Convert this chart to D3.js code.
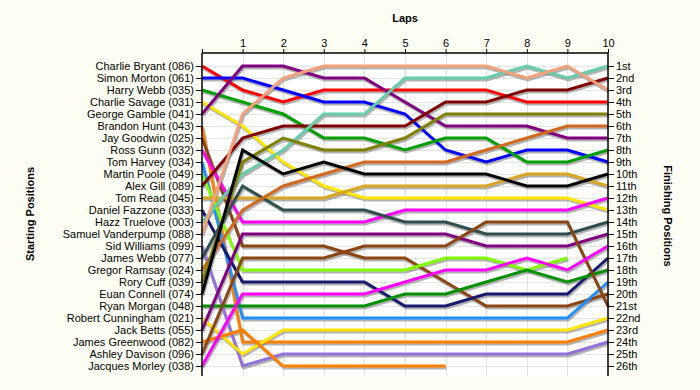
<!DOCTYPE html>
<html><head><meta charset="utf-8">
<script src="https://cdn.jsdelivr.net/npm/d3@7"></script>
<style>
html,body{margin:0;padding:0;background:#fefef4;}
svg{display:block;}
</style></head><body>
<svg id="c" width="700" height="390"></svg>
<script>
// ---- data ----
const laps = [0,1,2,3,4,5,6,7,8,9,10];
const lapTicks = [1,2,3,4,5,6,7,8,9,10];
const drivers = [
  "Charlie Bryant (086)","Simon Morton (061)","Harry Webb (035)","Charlie Savage (031)",
  "George Gamble (041)","Brandon Hunt (043)","Jay Goodwin (025)","Ross Gunn (032)",
  "Tom Harvey (034)","Martin Poole (049)","Alex Gill (089)","Tom Read (045)",
  "Daniel Fazzone (033)","Hazz Truelove (003)","Samuel Vanderpump (088)","Sid Williams (099)",
  "James Webb (077)","Gregor Ramsay (024)","Rory Cuff (039)","Euan Connell (074)",
  "Ryan Morgan (048)","Robert Cunningham (021)","Jack Betts (055)","James Greenwood (082)",
  "Ashley Davison (096)","Jacques Morley (038)"];
const colours = [
  "#ff0000","#0000ff","#00a000","#ffe600",
  "#800080","#ff8000","#8b4513","#ff00ff",
  "#1e90ff","#7fff00","#800000","#daa520",
  "#191970","#66cdaa","#f4a07a","#9370db",
  "#2f4f4f","#d2691e","#808000","#000000",
  "#009000","#ffe600","#800080","#ff8000",
  "#8b4513","#ff00ff"];
// position of each driver after each lap (lap 0 = start); null = retired
const positions = [
  [1,3,4,3,3,3,3,3,4,4,4],
  [2,2,3,4,4,5,8,9,8,8,9],
  [3,4,5,7,7,8,7,7,9,9,8],
  [4,6,9,11,12,12,12,12,12,12,13],
  [5,1,1,2,2,4,6,6,6,7,7],
  [6,24,24,24,24,24,24,24,24,24,23],
  [7,16,16,16,17,17,19,21,21,21,20],
  [8,14,14,14,14,13,13,13,13,13,12],
  [9,22,22,22,22,22,22,22,22,22,19],
  [10,18,18,18,18,18,17,17,18,17,null],
  [11,7,6,6,6,6,4,4,3,3,2],
  [12,12,12,12,11,11,11,11,10,10,11],
  [13,19,19,19,19,21,21,20,20,20,17],
  [14,10,8,5,5,2,2,2,1,2,1],
  [15,5,2,1,1,1,1,1,2,1,3],
  [16,26,25,25,25,25,25,25,25,25,24],
  [17,11,13,13,13,14,14,15,15,15,14],
  [18,13,11,10,9,9,9,8,7,6,6],
  [19,9,7,8,8,7,5,5,5,5,5],
  [20,8,10,9,10,10,10,10,11,11,10],
  [21,21,21,21,21,20,20,19,18,19,18],
  [22,25,23,23,23,23,23,23,23,23,22],
  [23,15,15,15,15,15,15,16,16,16,15],
  [24,23,26,26,26,26,26,null,null,null,null],
  [25,17,17,17,16,16,16,14,14,14,21],
  [26,20,20,20,20,19,18,18,17,18,16]];
const finishLabels = ["1st","2nd","3rd","4th","5th","6th","7th","8th","9th","10th","11th","12th","13th",
  "14th","15th","16th","17th","18th","19th","20th","21st","22nd","23rd","24th","25th","26th"];
const ranks = d3.range(1,27);

// ---- layout ----
const L = 202, R = 608, T = 53, B = 376;
const FONT = "'Liberation Sans', Arial, sans-serif";
const svg = d3.select("#c");
svg.append("rect").attr("width",700).attr("height",390).attr("fill","#fefef4");
svg.append("rect").attr("x",L).attr("y",T).attr("width",R-L).attr("height",B-T).attr("fill","#ffffff");

const x = d3.scaleLinear().domain([0,10]).range([L,R]);
const y = d3.scaleLinear().domain([1,26]).range([66,366]);

// grid
const grid = svg.append("g").attr("stroke","#e4e4e4").attr("stroke-width",1);
grid.selectAll("line.h").data(ranks).join("line")
  .attr("x1",L).attr("x2",R).attr("y1",d=>Math.round(y(d))+0.5).attr("y2",d=>Math.round(y(d))+0.5);
grid.selectAll("line.v").data(lapTicks.slice(0,9)).join("line")
  .attr("y1",T).attr("y2",B).attr("x1",d=>Math.round(x(d))+0.5).attr("x2",d=>Math.round(x(d))+0.5);

// lines
const line = d3.line().defined(d=>d!=null).x((d,i)=>x(laps[i])).y(d=>y(d));
const shadows = svg.append("g").attr("transform","translate(1,2)");
shadows.selectAll("path").data(positions).join("path")
  .attr("d",line).attr("fill","none").attr("stroke","#777").attr("stroke-opacity",0.55)
  .attr("stroke-width",3);
svg.append("g").selectAll("path").data(positions).join("path")
  .attr("d",line).attr("fill","none").attr("stroke",(d,i)=>colours[i])
  .attr("stroke-width",3).attr("stroke-linejoin","miter");

// axes
function styleAxis(g){
  g.attr("font-family",FONT).attr("font-size",11);
  g.select(".domain").remove();
  g.selectAll(".tick line").attr("stroke","#000");
  g.selectAll(".tick text").attr("fill","#000");
}
svg.append("g").attr("transform",`translate(${L},0)`)
  .call(d3.axisLeft(y).tickValues(ranks).tickFormat(d=>drivers[d-1]).tickSize(6).tickPadding(2))
  .call(styleAxis);
svg.append("g").attr("transform",`translate(${R},0)`)
  .call(d3.axisRight(y).tickValues(ranks).tickFormat(d=>finishLabels[d-1]).tickSize(6).tickPadding(2))
  .call(styleAxis);
svg.append("g").attr("transform",`translate(0,${T})`)
  .call(d3.axisTop(x).tickValues([0].concat(lapTicks)).tickFormat(d=>d===0?"":d).tickSize(4).tickPadding(2))
  .call(styleAxis);

const frame = svg.append("g").attr("stroke","#000").attr("stroke-width",1.5);
frame.append("line").attr("x1",L).attr("x2",L).attr("y1",T).attr("y2",B);
frame.append("line").attr("x1",R).attr("x2",R).attr("y1",T).attr("y2",B);
frame.append("line").attr("x1",L).attr("x2",R).attr("y1",T).attr("y2",T);

// titles
svg.append("text").attr("x",(L+R)/2).attr("y",22).attr("text-anchor","middle")
  .attr("font-family",FONT).attr("font-size",11).attr("font-weight","bold").text("Laps");
svg.append("text").attr("transform","translate(34,214) rotate(-90)").attr("text-anchor","middle")
  .attr("font-family",FONT).attr("font-size",11).attr("font-weight","bold").text("Starting Positions");
svg.append("text").attr("transform","translate(664,216) rotate(90)").attr("text-anchor","middle")
  .attr("font-family",FONT).attr("font-size",11).attr("font-weight","bold").text("Finishing Positions");
</script>
</body></html>
